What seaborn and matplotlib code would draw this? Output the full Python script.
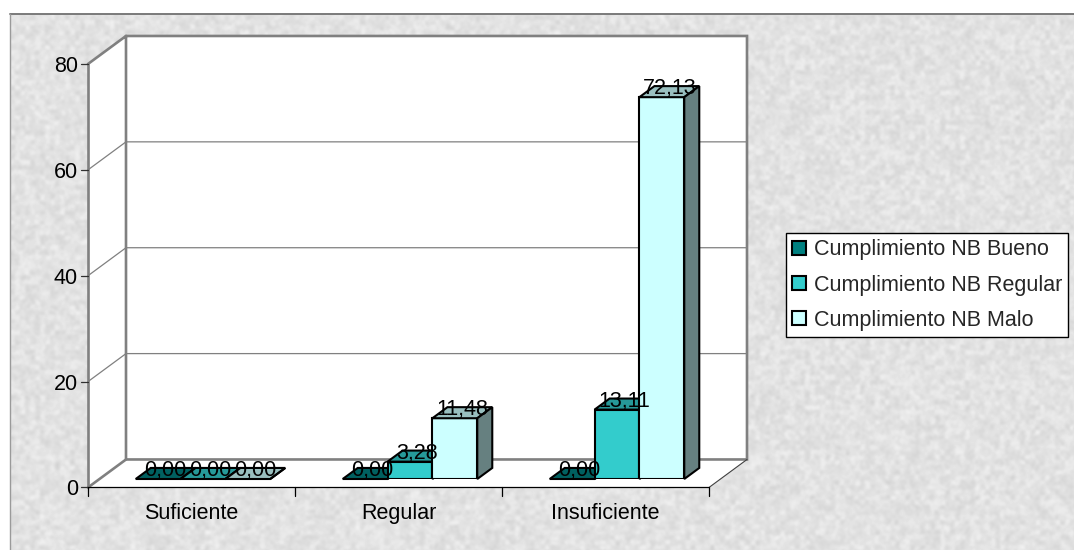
import numpy as np
import pandas as pd
import matplotlib
matplotlib.use("Agg")
import matplotlib.pyplot as plt
import matplotlib.transforms as mtransforms
from matplotlib.colors import to_hex
from matplotlib.patches import Polygon, Rectangle
from matplotlib.lines import Line2D
import seaborn as sns

# ---- data -------------------------------------------------------------
categorias = ["Suficiente", "Regular", "Insuficiente"]
series = ["Cumplimiento NB Bueno", "Cumplimiento NB Regular", "Cumplimiento NB Malo"]
bueno = [0.00, 0.00, 0.00]
regular = [0.00, 3.28, 13.11]
malo = [0.00, 11.48, 72.13]
y_ticks = [0, 20, 40, 60, 80]

# ---- styling ------------------------------------------------------------
colores = ["#008080", "#33cccc", "#ccffff"]        # front faces
colores_arriba = ["#006060", "#269999", "#99bfbf"]  # top faces
colores_lado = ["#004040", "#1a6666", "#668080"]    # right faces
GRIS = "#808080"
FS = 15.5

sns.set_style("white")
plt.rcParams["font.family"] = ["Liberation Sans", "DejaVu Sans"]

df = pd.DataFrame({
    "Categoría": categorias * 3,
    "Serie": np.repeat(series, len(categorias)),
    "Valor": bueno + regular + malo,
})

W, H = 1074, 550
fig = plt.figure(figsize=(W / 100, H / 100), dpi=100)

# ---- granite-like paper background -----------------------------------
bg = fig.add_axes([0, 0, 1, 1], zorder=-10)
rng = np.random.default_rng(11)
coarse = rng.random((H // 5 + 1, W // 5 + 1))
fine = rng.random((H // 2 + 1, W // 2 + 1))
coarse_up = np.kron(coarse, np.ones((5, 5)))[:H, :W]
fine_up = np.kron(fine, np.ones((2, 2)))[:H, :W]
tex = 0.885 + 0.07 * (coarse_up - 0.5) + 0.06 * (fine_up - 0.5)
for _ in range(2):
    padded = np.pad(tex, 1, mode="wrap")
    tex = sum(padded[1 + dy:1 + dy + H, 1 + dx:1 + dx + W]
              for dy in (-1, 0, 1) for dx in (-1, 0, 1)) / 9.0
bg.imshow(tex, cmap="gray", vmin=0, vmax=1, extent=(0, W, H, 0),
          aspect="auto", interpolation="bilinear")
bg.add_patch(Rectangle((0, 0), W, 14, facecolor="white", edgecolor="none"))
bg.add_patch(Rectangle((0, 0), 10, H, facecolor="white", edgecolor="none"))
bg.plot([10, W], [14, 14], color="#7a7a7a", lw=1.4)
bg.plot([10, 10], [14, H], color="#9a9a9a", lw=1.0)
bg.set_xlim(0, W)
bg.set_ylim(H, 0)
bg.axis("off")

# ---- bars (front faces) --------------------------------------------------
ax = fig.add_axes([99.5 / W, 71 / H, 621 / W, 423.5 / H])
sns.barplot(data=df, x="Categoría", y="Valor", hue="Serie", palette=colores,
            width=0.65, saturation=1, edgecolor="black", linewidth=1.5, ax=ax)
ax.set_xlim(-0.5, 2.5)
ax.set_ylim(0, 80)
ax.axis("off")

old_leg = ax.get_legend()
leg_handles = list(old_leg.legend_handles)
leg_labels = [t.get_text() for t in old_leg.get_texts()]
old_leg.remove()

barras = sorted([p for p in ax.patches
                 if isinstance(p, Rectangle) and p.get_width() > 0],
                key=lambda r: r.get_x())

# ---- pseudo-3D geometry (pixels) ---------------------------------------
DEPTH = np.array([38.0, 28.0])
T0 = 11.5 / 38.0   # bar front plane
T1 = 26.5 / 38.0   # bar back plane
ID = mtransforms.IdentityTransform()


def P(x, y, t):
    return ax.transData.transform((x, y)) + (t - T0) * DEPTH


def poly(pts, **kw):
    ax.add_patch(Polygon(np.array(pts), closed=True, transform=ID,
                         clip_on=False, joinstyle="miter", **kw))


def line(pts, **kw):
    pts = np.array(pts)
    ax.add_artist(Line2D(pts[:, 0], pts[:, 1], transform=ID, clip_on=False,
                         solid_joinstyle="miter", **kw))


x0, x1 = -0.5, 2.5
ymax = y_ticks[-1]

# walls and floor
for pts in ([P(x0, 0, 1), P(x1, 0, 1), P(x1, ymax, 1), P(x0, ymax, 1)],
            [P(x0, 0, 0), P(x0, 0, 1), P(x0, ymax, 1), P(x0, ymax, 0)],
            [P(x0, 0, 0), P(x1, 0, 0), P(x1, 0, 1), P(x0, 0, 1)]):
    poly(pts, facecolor="white", edgecolor="none", zorder=0.1)

for v in y_ticks[1:-1]:
    line([P(x0, v, 0), P(x0, v, 1), P(x1, v, 1)], color=GRIS, lw=0.9, zorder=0.5)

line([P(x0, ymax, 0), P(x0, ymax, 1), P(x1, ymax, 1), P(x1, 0, 1), P(x0, 0, 1),
      P(x0, ymax, 1)], color=GRIS, lw=1.9, zorder=0.6)
line([P(x0, 0, 0), P(x0, 0, 1)], color=GRIS, lw=1.9, zorder=0.6)
line([P(x0, 0, 0), P(x0, ymax, 0)], color=GRIS, lw=1.9, zorder=0.6)
line([P(x1, 0, 0), P(x1, 0, 1)], color="#404040", lw=0.8, zorder=0.7)
line([P(x0, 0, 0), P(x1, 0, 0)], color="black", lw=0.9, zorder=0.7)

# y axis ticks and labels
for v in y_ticks:
    p = P(x0, v, 0)
    line([p - (7, 0), p], color="#303030", lw=0.9, zorder=0.7)
    ax.text(p[0] - 10, p[1], f"{v}", transform=ID, ha="right",
            va="center_baseline", fontsize=FS, color="black")

# x axis ticks and category labels
for b in np.arange(-0.5, len(categorias), 1.0):
    p = P(b, 0, 0)
    line([p, p - (0, 9)], color="black", lw=0.9, zorder=0.7)
for i, c in enumerate(categorias):
    p = P(i, 0, 0)
    ax.text(p[0], p[1] - 26, c, transform=ID, ha="center", va="center",
            fontsize=FS, color="black")

# top and side faces, drawn left to right so nearer bars cover neighbours
for k_, r in enumerate(barras):
    s = colores.index(to_hex(r.get_facecolor()))
    x, w, h = r.get_x(), r.get_width(), r.get_height()
    r.set_zorder(3 + 3 * k_)
    r.set_joinstyle("miter")
    poly([P(x, h, T0), P(x + w, h, T0), P(x + w, h, T1), P(x, h, T1)],
         facecolor=colores_arriba[s], edgecolor="black", lw=1.5, zorder=4 + 3 * k_)
    poly([P(x + w, 0, T0), P(x + w, h, T0), P(x + w, h, T1), P(x + w, 0, T1)],
         facecolor=colores_lado[s], edgecolor="black", lw=1.5, zorder=5 + 3 * k_)
    p = P(x + w / 2, h, T0) + (7.5, 3)
    ax.text(p[0], p[1], f"{h:.2f}".replace(".", ","), transform=ID, ha="center",
            va="baseline", fontsize=FS, color="black", zorder=200)

# ---- legend ---------------------------------------------------------------
leg = ax.legend(leg_handles, leg_labels, loc="upper left",
                bbox_to_anchor=(786 / W, 1 - 233 / H), bbox_transform=fig.transFigure,
                frameon=True, fancybox=False, edgecolor="black", framealpha=1,
                fontsize=FS, handlelength=0.63, handleheight=0.63,
                handletextpad=0.35, labelspacing=0.66, borderpad=0.3,
                borderaxespad=0)
leg.get_frame().set_linewidth(1.0)
leg.set_zorder(300)
for h_ in leg.legend_handles:
    h_.set_edgecolor("black")
    h_.set_linewidth(1.5)

fig.savefig("out.png", dpi=100)
